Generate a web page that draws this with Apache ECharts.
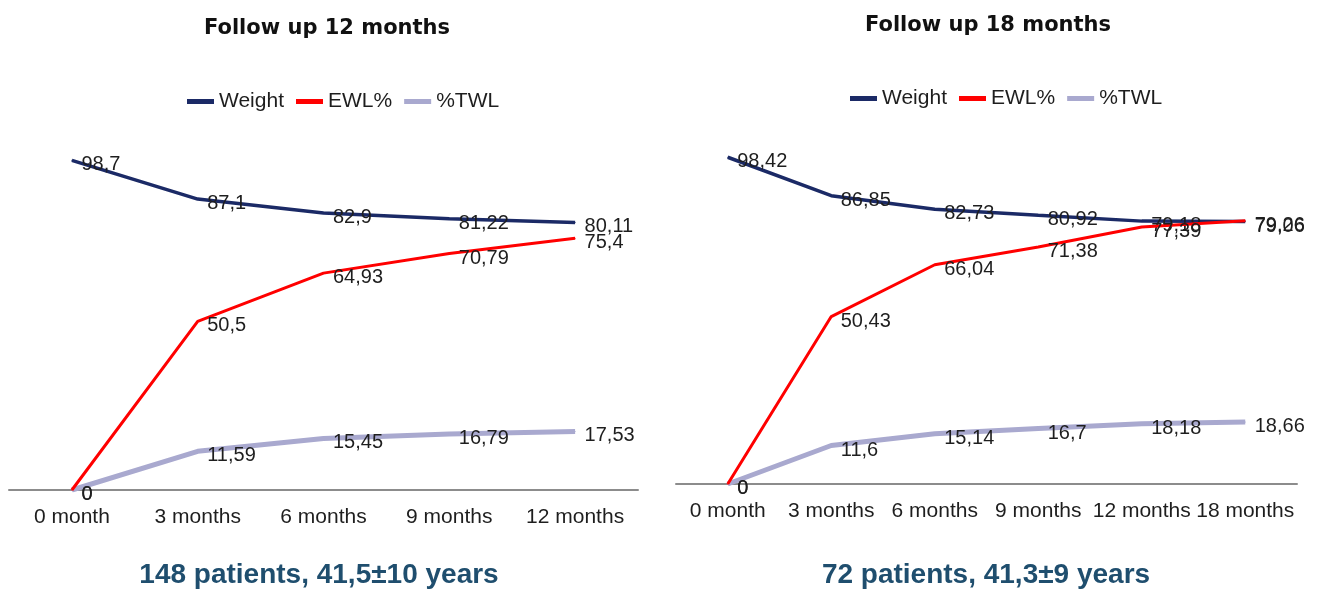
<!DOCTYPE html>
<html>
<head>
<meta charset="utf-8">
<style>
  html, body { margin: 0; padding: 0; background: #ffffff; }
  #chart { width: 1318px; height: 589px; }
</style>
<script src="https://cdn.jsdelivr.net/npm/echarts@6/dist/echarts.min.js"></script>
</head>
<body>
<div id="chart"></div>
<script>
// Follow-up after surgery: weight (kg), excess weight loss % and total weight loss %
const categories12 = ['0 month', '3 months', '6 months', '9 months', '12 months'];
const weight12 = [98.7, 87.1, 82.9, 81.22, 80.11];
const ewl12 = [0, 50.5, 64.93, 70.79, 75.4];
const twl12 = [0, 11.59, 15.45, 16.79, 17.53];

const categories18 = ['0 month', '3 months', '6 months', '9 months', '12 months', '18 months'];
const weight18 = [98.42, 86.85, 82.73, 80.92, 79.18, 79.06];
const ewl18 = [0, 50.43, 66.04, 71.38, 77.39, 79.26];
const twl18 = [0, 11.6, 15.14, 16.7, 18.18, 18.66];

const seriesNames = ['Weight', 'EWL%', '%TWL'];
const colors = { 'Weight': '#1b2a66', 'EWL%': '#ff0000', '%TWL': '#a9a9cf' };
const widths = { 'Weight': 3.5, 'EWL%': 3, '%TWL': 5 };

const FONT = "'Liberation Sans', Arial, sans-serif";
const TITLE_FONT = "'DejaVu Sans', 'Liberation Sans', sans-serif";

// values are written with a decimal comma
function commaLabel(p) {
  return String(p.value).replace('.', ',');
}

function lineSeries(name, data, idx) {
  return {
    name: name,
    type: 'line',
    xAxisIndex: idx,
    yAxisIndex: idx,
    data: data,
    symbol: 'circle',
    symbolSize: 1,
    showSymbol: true,
    smooth: false,
    lineStyle: { color: colors[name], width: widths[name] },
    itemStyle: { color: colors[name] },
    label: {
      show: true,
      position: [10, 5],
      align: 'left',
      verticalAlign: 'middle',
      formatter: commaLabel,
      color: '#1e1e1e',
      fontFamily: FONT,
      fontSize: 20
    },
    z: name === 'EWL%' ? 3 : (name === 'Weight' ? 2 : 1)
  };
}

function xAxis(cats, idx) {
  return {
    type: 'category',
    gridIndex: idx,
    data: cats,
    boundaryGap: true,
    axisLine: { lineStyle: { color: '#8c8c8c', width: 2 } },
    axisTick: { show: false },
    axisLabel: { color: '#1e1e1e', fontFamily: FONT, fontSize: 21, margin: 17, interval: 0 }
  };
}

function yAxis(idx) {
  return {
    type: 'value',
    gridIndex: idx,
    min: 0,
    max: 100,
    show: false,
    splitLine: { show: false }
  };
}

function legend(left, top) {
  return {
    data: seriesNames,
    left: left,
    top: top,
    icon: 'rect',
    itemWidth: 27,
    itemHeight: 5,
    itemGap: 12,
    textStyle: { color: '#1e1e1e', fontFamily: FONT, fontSize: 21 }
  };
}

const chart = echarts.init(document.getElementById('chart'), null, { renderer: 'canvas' });

chart.setOption({
  backgroundColor: '#ffffff',
  animation: false,
  title: [
    { text: 'Follow up 12 months', left: 322, top: 13, textAlign: 'center',
      textStyle: { fontFamily: TITLE_FONT, fontSize: 21, fontWeight: 'bold', color: '#111111' } },
    { text: 'Follow up 18 months', left: 983, top: 10, textAlign: 'center',
      textStyle: { fontFamily: TITLE_FONT, fontSize: 21, fontWeight: 'bold', color: '#111111' } },
    { text: '148 patients, 41,5±10 years', left: 314, top: 556, textAlign: 'center',
      textStyle: { fontFamily: FONT, fontSize: 28, fontWeight: 'bold', color: '#1f4e6e' } },
    { text: '72 patients, 41,3±9 years', left: 981, top: 556, textAlign: 'center',
      textStyle: { fontFamily: FONT, fontSize: 28, fontWeight: 'bold', color: '#1f4e6e' } }
  ],
  legend: [legend(182, 86), legend(845, 83)],
  grid: [
    { left: 9, right: 680, top: 156, bottom: 99 },
    { left: 676, right: 21, top: 152, bottom: 105 }
  ],
  xAxis: [xAxis(categories12, 0), xAxis(categories18, 1)],
  yAxis: [yAxis(0), yAxis(1)],
  series: [
    lineSeries('%TWL', twl12, 0),
    lineSeries('Weight', weight12, 0),
    lineSeries('EWL%', ewl12, 0),
    lineSeries('%TWL', twl18, 1),
    lineSeries('Weight', weight18, 1),
    lineSeries('EWL%', ewl18, 1)
  ]
});
</script>
</body>
</html>
